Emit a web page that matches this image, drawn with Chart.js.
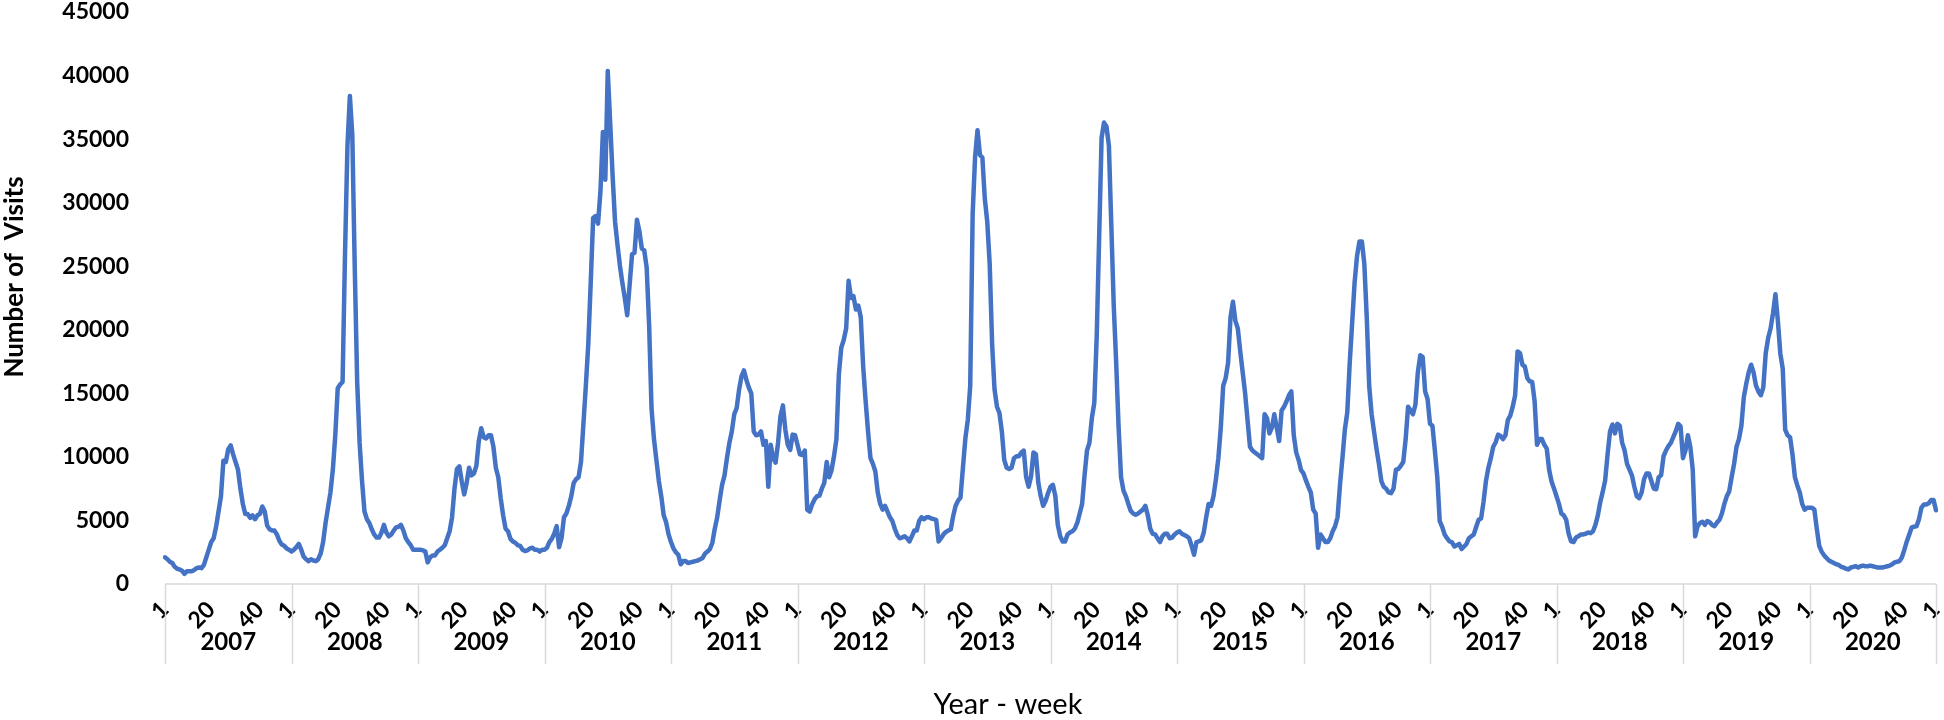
<!DOCTYPE html>
<html>
<head>
<meta charset="utf-8">
<title>Number of Visits per week</title>
<script src="https://cdn.jsdelivr.net/npm/chart.js@4.4.1/dist/chart.umd.min.js"></script>
<style>
  html, body { margin: 0; padding: 0; background: #fff; }
  #wrap { width: 1944px; height: 720px; }
</style>
</head>
<body>
<div id="wrap"><canvas id="visitsChart" width="1944" height="720"></canvas></div>
<script>
// Weekly visits, one array per year (weeks 1-52)
const YEARS = [2007, 2008, 2009, 2010, 2011, 2012, 2013, 2014, 2015, 2016, 2017, 2018, 2019, 2020];
const TICK_WEEKS = [1, 20, 40];

const visits2007 = [2100, 1950, 1750, 1650, 1350, 1200, 1150, 1050, 800, 1000, 1000, 1000, 1100, 1250, 1300, 1250, 1500, 2100, 2700, 3300, 3600, 4500, 5700, 6900, 9700, 9600, 10600, 10900, 10200, 9600, 9000, 7500, 6300, 5500, 5500, 5200, 5400, 5100, 5400, 5500, 6100, 5700, 4600, 4300, 4200, 4200, 3900, 3400, 3100, 3000, 2800, 2700];
const visits2008 = [2550, 2700, 2900, 3150, 2700, 2150, 1950, 1800, 1950, 1850, 1800, 1950, 2400, 3300, 4800, 6000, 7200, 9000, 11700, 15400, 15700, 15900, 26000, 34500, 38400, 35300, 24900, 15900, 11100, 8100, 5700, 5100, 4800, 4300, 3900, 3650, 3650, 4050, 4650, 4050, 3750, 3900, 4200, 4450, 4500, 4650, 4200, 3600, 3300, 3050, 2700, 2700];
const visits2009 = [2700, 2700, 2650, 2550, 1700, 2100, 2250, 2250, 2550, 2700, 2850, 3050, 3600, 4150, 5250, 7500, 9050, 9250, 8050, 7050, 7950, 9150, 8550, 8700, 9300, 11250, 12250, 11550, 11450, 11700, 11700, 10800, 9150, 8400, 6750, 5400, 4350, 4150, 3550, 3350, 3250, 3050, 3000, 2700, 2600, 2650, 2800, 2850, 2700, 2700, 2550, 2700];
const visits2010 = [2700, 2850, 3300, 3550, 3950, 4550, 2900, 3600, 5250, 5550, 6150, 6900, 7950, 8250, 8400, 9600, 12600, 15600, 18900, 23700, 28800, 28950, 28350, 30900, 35550, 31800, 40350, 36300, 32100, 28500, 26700, 25050, 23700, 22500, 21150, 23550, 25950, 26050, 28650, 27750, 26400, 26250, 24900, 20400, 13800, 11400, 9750, 8100, 6900, 5400, 4850, 3900];
const visits2011 = [3300, 2800, 2500, 2300, 1550, 1800, 1800, 1650, 1700, 1750, 1800, 1850, 1950, 2050, 2400, 2550, 2750, 3250, 4350, 5250, 6600, 7800, 8550, 9900, 11100, 12000, 13350, 13850, 15300, 16350, 16800, 16050, 15450, 15000, 12000, 11700, 11750, 12000, 10950, 11250, 7650, 10950, 9900, 9550, 11100, 13200, 14050, 12150, 10950, 10550, 11750, 11700];
const visits2012 = [10950, 10200, 10150, 10500, 5850, 5700, 6250, 6650, 6900, 6950, 7500, 7950, 9600, 8400, 8950, 10050, 11400, 16500, 18600, 19200, 20100, 23850, 22500, 22650, 21600, 21900, 21000, 17100, 14400, 12000, 9900, 9450, 8850, 7200, 6300, 5850, 6150, 5700, 5250, 4950, 4350, 3850, 3600, 3650, 3750, 3600, 3350, 3750, 4200, 4200, 4950, 5250];
const visits2013 = [5100, 5250, 5250, 5150, 5100, 5050, 3350, 3600, 3900, 4100, 4200, 4300, 5350, 6150, 6550, 6800, 9150, 11450, 12900, 15600, 29100, 33600, 35700, 33750, 33550, 30300, 28500, 25200, 18900, 15300, 13950, 13450, 12000, 9750, 9150, 9050, 9150, 9900, 10050, 10050, 10350, 10500, 8400, 7650, 8450, 10350, 10200, 7950, 6900, 6150, 6550, 7150];
const visits2014 = [7650, 7800, 6900, 4650, 3750, 3350, 3350, 3900, 4050, 4150, 4350, 4800, 5550, 6300, 8550, 10500, 11100, 13050, 14250, 19500, 27300, 35100, 36300, 36000, 34500, 28200, 21900, 17400, 12300, 8400, 7350, 6900, 6300, 5750, 5550, 5450, 5550, 5700, 5850, 6150, 5400, 4350, 3950, 3900, 3600, 3300, 3750, 3950, 3950, 3600, 3650, 3900];
const visits2015 = [4050, 4150, 3950, 3850, 3750, 3600, 3000, 2300, 3300, 3350, 3450, 4050, 5250, 6300, 6150, 6900, 8250, 9900, 12300, 15600, 16200, 17400, 21000, 22200, 20700, 20100, 18300, 16650, 15000, 12900, 10800, 10500, 10350, 10200, 10050, 9900, 13350, 13050, 11850, 12300, 13350, 12300, 11250, 13650, 13950, 14350, 14850, 15150, 11700, 10350, 9750, 8950];
const visits2016 = [8700, 8150, 7650, 7200, 5850, 5550, 2850, 3900, 3600, 3300, 3300, 3600, 4150, 4550, 5250, 7800, 9900, 12150, 13500, 17400, 20550, 23700, 25800, 26950, 26950, 25200, 21000, 15600, 13350, 12000, 10650, 9450, 8100, 7650, 7500, 7200, 7150, 7500, 9000, 9050, 9300, 9600, 11400, 13950, 13650, 13350, 14100, 16650, 18000, 17850, 15150, 14550];
const visits2017 = [12600, 12450, 10500, 8400, 4950, 4500, 3900, 3600, 3350, 3300, 2950, 3050, 3150, 2750, 2950, 3150, 3600, 3750, 3900, 4500, 5050, 5150, 6450, 8100, 9150, 9900, 10800, 11150, 11750, 11650, 11400, 11700, 12900, 13250, 13950, 14850, 18300, 18150, 17250, 17100, 16200, 15950, 15900, 14400, 10950, 11400, 11400, 10950, 10650, 8950, 8050, 7500];
const visits2018 = [6900, 6300, 5550, 5400, 5050, 3950, 3350, 3300, 3650, 3750, 3900, 3900, 3950, 4050, 4000, 4150, 4650, 5400, 6450, 7250, 8150, 10200, 12000, 12550, 11850, 12600, 12450, 11100, 10500, 9450, 9000, 8550, 7650, 6900, 6750, 7200, 8250, 8700, 8700, 8100, 7500, 7450, 8400, 8550, 10050, 10500, 10850, 11100, 11550, 12000, 12600, 12400];
const visits2019 = [9900, 10500, 11700, 10800, 9000, 3750, 4550, 4800, 4900, 4650, 4950, 4850, 4650, 4550, 4850, 5050, 5550, 6300, 6900, 7300, 8400, 9450, 10800, 11400, 12450, 14700, 15750, 16650, 17250, 16650, 15600, 15150, 14850, 15450, 18150, 19350, 20100, 21300, 22800, 20700, 18150, 16950, 12150, 11700, 11550, 10200, 8400, 7750, 7200, 6300, 5850, 6000];
const visits2020 = [6000, 6000, 5850, 4350, 3000, 2550, 2250, 2050, 1850, 1750, 1650, 1550, 1500, 1350, 1300, 1200, 1150, 1300, 1350, 1400, 1300, 1400, 1450, 1400, 1400, 1450, 1400, 1350, 1300, 1300, 1300, 1350, 1400, 1450, 1550, 1700, 1750, 1800, 2100, 2700, 3350, 3900, 4450, 4500, 4550, 5100, 6000, 6250, 6250, 6350, 6600, 6600];
const visitsNextWeek1 = [5800];

const yearSeries = [visits2007, visits2008, visits2009, visits2010, visits2011, visits2012, visits2013,
                    visits2014, visits2015, visits2016, visits2017, visits2018, visits2019, visits2020];

// flatten into one weekly series with week-number labels
const weekLabels = [];
const weeklyVisits = [];
yearSeries.forEach(arr => {
    arr.forEach((v, i) => {
        weekLabels.push(String(i + 1));
        weeklyVisits.push(v);
    });
});
visitsNextWeek1.forEach(v => {
    weekLabels.push('1');
    weeklyVisits.push(v);
});

// pick a font size so a text spans roughly the same length as in the figure
function fitSize(ctx, text, weight, family, target) {
    ctx.font = weight + ' 100px ' + family;
    return Math.round(100 * target / ctx.measureText(text).width);
}

// year groups under the week ticks, separators and axis titles
const yearAxisPlugin = {
    id: 'yearAxis',
    beforeDatasetsDraw(chart) {
        const { ctx, chartArea } = chart;
        const x = chart.scales.x;
        const bottom = chartArea.bottom;

        const bounds = YEARS.map((_, i) => x.getPixelForValue(i * 52));
        bounds.push(x.getPixelForValue(weeklyVisits.length - 1));

        ctx.save();
        ctx.strokeStyle = '#d9d9d9';
        ctx.lineWidth = 1.5;
        ctx.beginPath();
        ctx.moveTo(chartArea.left, bottom);
        ctx.lineTo(chartArea.right, bottom);
        bounds.forEach(px => {
            ctx.moveTo(Math.round(px) + 0.5, bottom);
            ctx.lineTo(Math.round(px) + 0.5, bottom + 80);
        });
        ctx.stroke();

        ctx.fillStyle = '#000';
        ctx.textAlign = 'center';
        ctx.textBaseline = 'middle';
        ctx.font = 'bold 24px Lato';
        YEARS.forEach((yr, i) => {
            ctx.fillText(String(yr), (bounds[i] + bounds[i + 1]) / 2, bottom + 58);
        });

        const xSize = fitSize(ctx, 'Year - week', 'normal', 'Lato', 148);
        ctx.font = 'normal ' + xSize + 'px Lato';
        ctx.fillText('Year - week', 1008, 705);

        const ySize = fitSize(ctx, 'Number of  Visits', 'bold', 'Lato', 204);
        ctx.translate(15, 277);
        ctx.rotate(-Math.PI / 2);
        ctx.font = 'bold ' + ySize + 'px Lato';
        ctx.fillText('Number of  Visits', 0, 0);
        ctx.restore();
    }
};

new Chart(document.getElementById('visitsChart').getContext('2d'), {
    type: 'line',
    data: {
        labels: weekLabels,
        datasets: [{
            label: 'Number of Visits',
            data: weeklyVisits,
            borderColor: '#4472C4',
            borderWidth: 4.5,
            borderJoinStyle: 'round',
            borderCapStyle: 'round',
            pointRadius: 0,
            tension: 0,
            fill: false
        }]
    },
    options: {
        responsive: false,
        animation: false,
        layout: { padding: { top: 12, right: 8, left: 0, bottom: 0 } },
        plugins: {
            legend: { display: false },
            tooltip: { enabled: false }
        },
        scales: {
            x: {
                type: 'category',
                offset: false,
                grid: { display: false },
                border: { display: false },
                ticks: {
                    autoSkip: false,
                    minRotation: 45,
                    maxRotation: 45,
                    padding: 4,
                    color: '#000',
                    font: { family: 'Lato', weight: 'bold', size: 23 },
                    callback(val) {
                        const lab = this.getLabelForValue(val);
                        return TICK_WEEKS.includes(Number(lab)) ? lab : '';
                    }
                },
                afterFit(scale) {
                    scale.height = 136;
                    scale.paddingLeft = 0;
                    scale.paddingRight = 0;
                }
            },
            y: {
                min: 0,
                max: 45000,
                grid: { display: false },
                border: { display: false },
                ticks: {
                    stepSize: 5000,
                    padding: 28,
                    color: '#000',
                    font: { family: 'Lato', weight: 'bold', size: 23 },
                    callback: v => String(v)
                },
                afterFit(scale) {
                    scale.width = 165;
                    scale.paddingTop = 0;
                    scale.paddingBottom = 0;
                }
            }
        }
    },
    plugins: [yearAxisPlugin]
});
</script>
</body>
</html>
